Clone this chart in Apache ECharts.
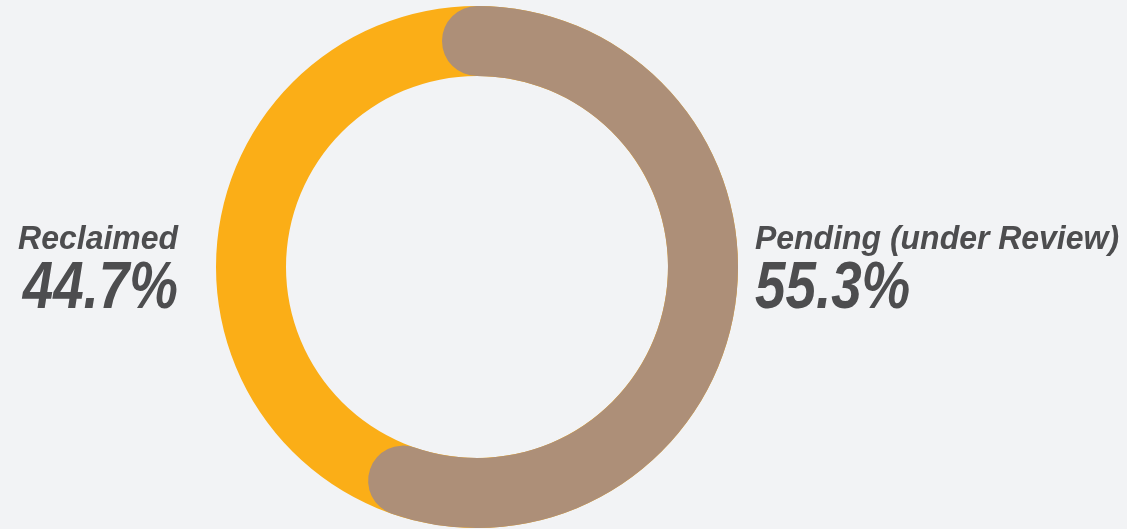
<!DOCTYPE html>
<html><head><meta charset="utf-8">
<script src="https://cdn.jsdelivr.net/npm/echarts@6/dist/echarts.min.js"></script>
<style>html,body{margin:0;padding:0;background:#F2F3F5;}#c{width:1127px;height:529px;}</style>
</head><body><div id="c"></div>
<script>
var categories = ['Reclaimed', 'Pending (under Review)'];
var values = [44.7, 55.3];
var colors = ['#FBAE17', '#AD8F78'];

var chart = echarts.init(document.getElementById('c'));
var font = '"Liberation Sans", Arial, sans-serif';
var txtColor = '#4D4D4F';
function lbl(i){ return values[i].toFixed(1) + '%'; }
function txt(x, y, s, align, size, sx){
  return { type: 'text', x: x, y: y, scaleX: sx, scaleY: 1,
    style: { x: 0, y: 0, text: s, textAlign: align, textVerticalAlign: 'bottom',
      font: 'italic bold ' + size + 'px ' + font, fill: txtColor } };
}

chart.setOption({
  backgroundColor: '#F2F3F5',
  animation: false,
  series: [{
    type: 'gauge',
    center: [477, 267],
    radius: 261,
    startAngle: 90,
    endAngle: -270,
    min: 0,
    max: 100,
    pointer: { show: false },
    axisTick: { show: false },
    splitLine: { show: false },
    axisLabel: { show: false },
    title: { show: false },
    detail: { show: false },
    axisLine: { lineStyle: { width: 70, color: [[1, colors[0]]] } },
    progress: { show: true, roundCap: true, width: 70, itemStyle: { color: colors[1] } },
    data: [{ value: values[1], name: categories[1] }]
  }],
  graphic: [
    txt(178, 257, categories[0], 'right', 34, 0.94),
    txt(178, 323, lbl(0), 'right', 66, 0.83),
    txt(755, 257, categories[1], 'left', 34, 0.94),
    txt(755, 323, lbl(1), 'left', 66, 0.83)
  ]
});
</script></body></html>
